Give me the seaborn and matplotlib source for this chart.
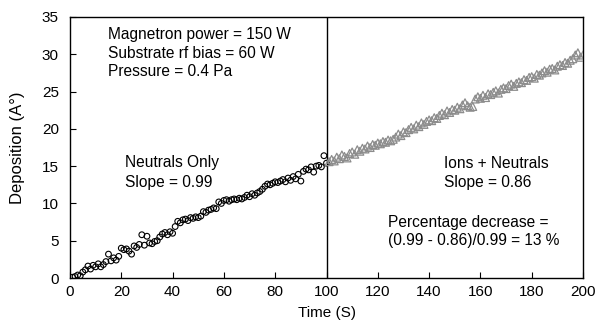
import numpy as np
import pandas as pd
import matplotlib
matplotlib.use('Agg')
import matplotlib.pyplot as plt
import seaborn as sns

### Data ###
# Neutrals only (circles), t = 1..100 s
time_neutrals = list(range(1, 101))
dep_neutrals = [
    0.1, 0.2, 0.4, 0.3, 0.8, 1.1, 1.6, 1.2, 1.7, 1.5,
    1.9, 1.5, 1.8, 2.2, 3.2, 2.3, 2.7, 2.4, 2.9, 4.0,
    3.8, 3.9, 3.6, 3.2, 4.3, 4.1, 4.5, 5.8, 4.4, 5.6,
    4.7, 4.6, 4.9, 5.0, 5.5, 5.9, 6.1, 5.8, 6.2, 6.0,
    6.9, 7.6, 7.4, 7.8, 7.9, 7.7, 8.1, 8.0, 8.2, 8.1,
    8.3, 8.9, 8.8, 9.1, 9.2, 9.4, 9.3, 10.2, 10.0, 10.4,
    10.5, 10.3, 10.5, 10.6, 10.5, 10.7, 10.6, 10.8, 11.1, 10.9,
    11.3, 11.1, 11.4, 11.6, 11.9, 12.3, 12.6, 12.5, 12.7, 12.9,
    12.8, 13.0, 13.2, 12.9, 13.4, 13.1, 13.6, 13.3, 13.9, 13.0,
    14.3, 14.6, 14.5, 14.9, 14.2, 15.0, 15.1, 14.9, 16.4, 15.4,
]
# Ions + neutrals (triangles), t = 101..200 s
time_ions = list(range(101, 201))
dep_ions = [
    15.6, 15.9, 15.7, 16.2, 16.0, 16.5, 16.3, 16.1, 16.7, 16.9,
    16.6, 17.2, 17.0, 17.4, 17.3, 17.7, 17.5, 17.9, 17.8, 18.1,
    18.0, 18.3, 18.2, 18.5, 18.4, 18.6, 18.9, 19.3, 19.1, 19.6,
    19.5, 19.9, 20.2, 20.0, 20.5, 20.3, 20.8, 20.6, 21.0, 21.2,
    21.1, 21.5, 21.4, 21.8, 22.1, 21.9, 22.4, 22.2, 22.6, 22.5,
    22.9, 22.7, 23.2, 23.5, 23.1, 22.9, 23.0, 24.0, 24.3, 24.1,
    24.5, 24.2, 24.7, 24.6, 24.9, 25.1, 24.8, 25.3, 25.5, 25.4,
    25.8, 26.0, 25.7, 26.1, 26.3, 26.2, 26.6, 26.5, 26.9, 27.0,
    26.8, 27.3, 27.2, 27.5, 27.8, 27.6, 28.0, 28.1, 27.9, 28.4,
    28.6, 28.5, 28.9, 28.8, 29.2, 29.4, 29.9, 30.2, 29.6, 29.9,
]
x_ticks = list(range(0, 201, 20))
y_ticks = list(range(0, 36, 5))

df_neutrals = pd.DataFrame({'time': time_neutrals, 'dep': dep_neutrals})
df_ions = pd.DataFrame({'time': time_ions, 'dep': dep_ions})

### Plotting ###
sns.set_style('ticks')
plt.rcParams['font.family'] = ['Liberation Sans', 'DejaVu Sans']
plt.rcParams['text.color'] = 'black'
plt.rcParams['axes.labelcolor'] = 'black'
plt.rcParams['xtick.color'] = 'black'
plt.rcParams['ytick.color'] = 'black'

fig = plt.figure(figsize=(5.97, 3.29), dpi=100)
ax = fig.add_axes([70/597, 1 - 278/329, (583-70)/597, (278-17)/329])

sns.scatterplot(data=df_neutrals, x='time', y='dep', ax=ax, marker='o', s=17,
                facecolor='none', edgecolor='black', linewidth=0.8, zorder=3)
sns.scatterplot(data=df_ions, x='time', y='dep', ax=ax, marker='^', s=32,
                facecolor='none', edgecolor='#8c8c8c', linewidth=0.9, zorder=3)
ax.axvline(100, color='black', linewidth=1, zorder=2)

#Formatting
ax.set_xlim(0, 200)
ax.set_ylim(0, 35)
ax.set_xticks(x_ticks)
ax.set_yticks(y_ticks)
ax.tick_params(axis='both', direction='in', length=4, width=0.8, labelsize=11,
               color='black', labelcolor='black')
ax.tick_params(axis='y', pad=8)
ax.tick_params(axis='x', pad=5)
for s in ax.spines.values():
    s.set_linewidth(1)
    s.set_color('black')
ax.set_xlabel('Time (S)', fontsize=11, color='black')
ax.set_ylabel('Deposition (A°)', fontsize=12, color='black')
ax.xaxis.set_label_coords(0.5, -(313 - 278) / (278 - 17), transform=ax.transAxes)
ax.yaxis.set_label_coords(-(70 - 18) / (583 - 70), 0.5, transform=ax.transAxes)
ax.xaxis.label.set_va('center')
ax.yaxis.label.set_va('center')

def put(px, py, s):
    # position in figure pixels (from top-left)
    fig.text(px/597, 1 - py/329, s, fontsize=11.2, va='center', ha='left', color='black')

put(108, 34, 'Magnetron power = 150 W')
put(108, 53, 'Substrate rf bias = 60 W')
put(108, 72, 'Pressure = 0.4 Pa')
put(125, 163, 'Neutrals Only')
put(125, 182, 'Slope = 0.99')
put(444, 163, 'Ions + Neutrals')
put(444, 182, 'Slope = 0.86')
put(388, 222, 'Percentage decrease =')
put(388, 241, '(0.99 - 0.86)/0.99 = 13 %')

plt.savefig('out.png', dpi=100)
